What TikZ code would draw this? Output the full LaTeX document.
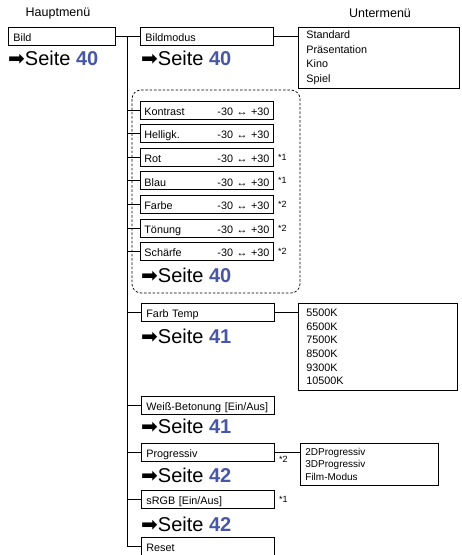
\documentclass[tikz,border=0pt]{standalone}
\usepackage{fontspec}
\setmainfont{Liberation Sans}
\newfontfamily\arrowfont{DejaVu Sans}
\usepackage{xcolor}
\usetikzlibrary{positioning}
\definecolor{pagenum}{RGB}{72,86,166}

\begin{document}
\begin{tikzpicture}[
    x=1pt, y=-1pt,
    node distance=4.8pt and 4pt,
    menubox/.style={draw, line width=0.8pt, anchor=west, minimum height=18pt, inner xsep=5pt, text width=123pt, text height=10.6pt, text depth=0pt, align=left, font=\fontsize{10.8}{13}\selectfont},
    slider/.style={menubox, inner xsep=4pt, text width=125pt},
    listbox/.style={draw, line width=0.8pt, anchor=north west, inner xsep=8pt, align=left, font=\fontsize{10.8}{14.6}\selectfont},
    seite/.style={anchor=base west, inner sep=0pt, font=\fontsize{20}{22}\selectfont},
    head/.style={font=\fontsize{12.5}{15}\selectfont},
    note/.style={inner sep=0pt, font=\fontsize{9}{10}\selectfont},
    link/.style={line width=0.8pt},
    group/.style={draw, dash pattern=on 2.5pt off 1.8pt, line width=0.7pt, rounded corners=9pt}
]
\useasboundingbox (0,0) rectangle (462,555);

% headers
\node[head] (haupt) at (58,13) {Hauptmenü};
\node[head] (unter) at (380,13) {Untermenü};

% main menu
\node[menubox, text width=97pt] (bild) at (8,36) {Bild};
\node[seite] (seite0) at (8,65) {{\arrowfont ➡}Seite \textbf{\textcolor{pagenum}{40}}};

% Bildmodus
\node[menubox] (bildmodus) at (140,36) {Bildmodus};
\node[seite] (seite1) at (141,65) {{\arrowfont ➡}Seite \textbf{\textcolor{pagenum}{40}}};
\node[listbox, text width=145pt, minimum height=61pt] (bildlist) at (298,27) {Standard\\Präsentation\\Kino\\Spiel};

% slider group
\draw[group] (132,90) rectangle (300,293);
\node[slider] (kontrast) at (140,110) {Kontrast\hfill-30 ↔ +30};
\node[slider, below=of kontrast] (helligk) {Helligk.\hfill-30 ↔ +30};
\node[slider, below=of helligk] (rot) {Rot\hfill-30 ↔ +30};
\node[slider, below=of rot] (blau) {Blau\hfill-30 ↔ +30};
\node[slider, below=of blau] (farbe) {Farbe\hfill-30 ↔ +30};
\node[slider, below=of farbe] (toenung) {Tönung\hfill-30 ↔ +30};
\node[slider, below=of toenung] (schaerfe) {Schärfe\hfill-30 ↔ +30};
\node[note, right=of rot] (rotnote) {*1};
\node[note, right=of blau] (blaunote) {*1};
\node[note, right=of farbe] (farbenote) {*2};
\node[note, right=of toenung] (toenungnote) {*2};
\node[note, right=of schaerfe] (schaerfenote) {*2};
\node[seite] (seite2) at (141,282) {{\arrowfont ➡}Seite \textbf{\textcolor{pagenum}{40}}};

% Farb Temp
\node[menubox] (farbtemp) at (141,312) {Farb Temp};
\node[seite] (seite3) at (141,343) {{\arrowfont ➡}Seite \textbf{\textcolor{pagenum}{41}}};
\node[listbox, text width=143pt, minimum height=87pt, font=\fontsize{10.8}{13.6}\selectfont] (templist) at (298,303) {5500K\\6500K\\7500K\\8500K\\9300K\\10500K};

% Weiss-Betonung
\node[menubox] (weiss) at (141,405) {Weiß-Betonung [Ein/Aus]};
\node[seite] (seite4) at (141,433) {{\arrowfont ➡}Seite \textbf{\textcolor{pagenum}{41}}};

% Progressiv
\node[menubox] (progressiv) at (141,452) {Progressiv};
\node[note, anchor=west] (prognote) at ([xshift=4pt,yshift=2pt]progressiv.south east) {*2};
\node[seite] (seite5) at (141,482) {{\arrowfont ➡}Seite \textbf{\textcolor{pagenum}{42}}};
\node[listbox, inner xsep=5pt, text width=128pt, minimum height=42pt, font=\fontsize{10}{12.3}\selectfont] (proglist) at (300,443) {2DProgressiv\\3DProgressiv\\Film-Modus};

% sRGB, Reset
\node[menubox] (srgb) at (141,499) {sRGB [Ein/Aus]};
\node[note, right=of srgb] (srgbnote) {*1};
\node[seite] (seite6) at (141,531) {{\arrowfont ➡}Seite \textbf{\textcolor{pagenum}{42}}};
\node[menubox] (reset) at (141,546) {Reset};

% connectors
\coordinate (trunktop) at (127,36);
\coordinate (trunkend) at (trunktop |- reset.west);
\draw[link] (bild.east) -- (bildmodus.west);
\draw[link, line width=1pt] (trunktop) -- (trunkend) -- (reset.west);
\foreach \item in {kontrast,helligk,rot,blau,farbe,toenung,schaerfe,farbtemp,weiss,progressiv,srgb}
    \draw[link] (trunktop |- \item.west) -- (\item.west);
\draw[link] (bildmodus.east) -- (bildmodus.east -| bildlist.west);
\draw[link] (farbtemp.east) -- (farbtemp.east -| templist.west);
\draw[link] (progressiv.east) -- (progressiv.east -| proglist.west);
\end{tikzpicture}
\end{document}
